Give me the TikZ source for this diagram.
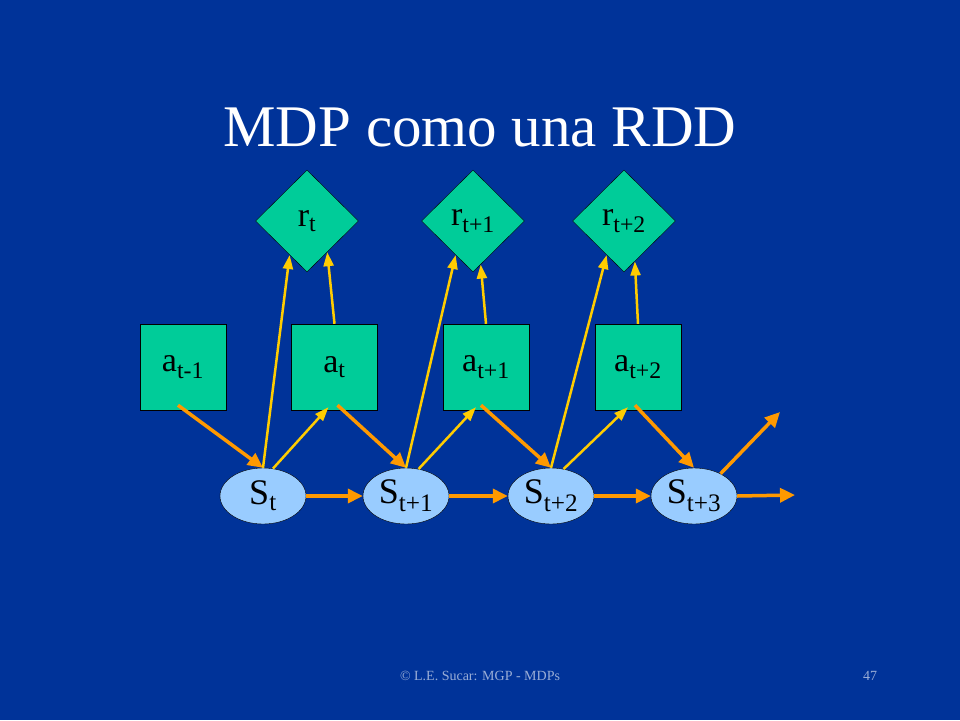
\documentclass[tikz,border=0pt]{standalone}
\usepackage{fontspec}
\setmainfont{Liberation Serif}
\usetikzlibrary{shapes.geometric,arrows.meta}
\definecolor{bg}{HTML}{003399}
\definecolor{gr}{HTML}{00CC99}
\definecolor{sk}{HTML}{99CCFF}
\definecolor{og}{HTML}{FF9900}
\definecolor{ye}{HTML}{FFCC00}
\begin{document}
\begin{tikzpicture}[x=1pt,y=-1pt,
  rw/.style={diamond,draw=black,fill=gr,minimum width=103pt,minimum height=102pt,inner sep=0pt,font=\fontsize{34}{36}\selectfont},
  ac/.style={rectangle,draw=black,fill=gr,minimum width=86pt,minimum height=86pt,inner sep=0pt,font=\fontsize{34}{36}\selectfont},
  st/.style={ellipse,draw=black,fill=sk,minimum width=86pt,minimum height=56pt,inner sep=0pt,font=\fontsize{36}{38}\selectfont},
  oa/.style={draw=og,line width=3.5pt,-{Triangle[length=15pt,width=14pt]}},
  ya/.style={draw=ye,line width=2.5pt,-{Triangle[length=14pt,width=10pt]}}]
\fill[bg] (0,0) rectangle (960,720);
\path[use as bounding box] (0,0) rectangle (960,720);
\node[text=white,font=\fontsize{59}{62}\selectfont] (title) at (480,127) {MDP como una RDD};
\node[rw] (r0) at (307,221) {r\textsubscript{t}};
\node[rw] (r1) at (473,221) {r\textsubscript{t+1}};
\node[rw] (r2) at (624,221) {r\textsubscript{t+2}};
\node[ac] (am) at (183,367) {a\textsubscript{t-1}};
\node[ac] (a0) at (334.5,367) {a\textsubscript{t}};
\node[ac] (a1) at (486,367) {a\textsubscript{t+1}};
\node[ac] (a2) at (638,367) {a\textsubscript{t+2}};
\node[st] (s0) at (263,496) {S\textsubscript{t}};
\node[st] (s1) at (406,496) {S\textsubscript{t+1}};
\node[st] (s2) at (551,496) {S\textsubscript{t+2}};
\node[st] (s3) at (694,496) {S\textsubscript{t+3}};
\coordinate (e1) at (780,412);
\coordinate (e2) at (795,495);
% orange
\draw[oa] ([xshift=-5pt,yshift=5pt]am.south) -- (s0.north);
\draw[oa] ([xshift=3pt,yshift=5pt]a0.south) -- (s1.north);
\draw[oa] ([xshift=-5pt,yshift=5pt]a1.south) -- (s2.north);
\draw[oa] ([xshift=-3pt,yshift=5pt]a2.south) -- (s3.north);
\draw[oa] (s0.east) -- (s1.west);
\draw[oa] (s1.east) -- (s2.west);
\draw[oa] (s2.east) -- (s3.west);
\draw[oa] (s3.east) -- (e2);
\draw[oa] (s3.40) -- (e1);
% yellow
\draw[ya] (s0.north) -- (r0.243);
\draw[ya] (s1.north) -- (r1.243);
\draw[ya] (s2.north) -- (r2.243);
\draw[ya] (a0.north) -- (r0.-57);
\draw[ya] (a1.north) -- (r1.-80);
\draw[ya] (a2.north) -- (r2.-75);
\draw[ya] (s0.70) -- ([xshift=-6pt,yshift=3pt]a0.south);
\draw[ya] (s1.65) -- ([xshift=-10pt,yshift=3pt]a1.south);
\draw[ya] (s2.65) -- ([xshift=-10pt,yshift=3pt]a2.south);
\node[text=bg!40!white,font=\fontsize{14}{16}\selectfont] (foot) at (480,676) {© L.E. Sucar: MGP - MDPs};
\node[text=bg!40!white,font=\fontsize{14}{16}\selectfont] (pg) at (870,676) {47};
\end{tikzpicture}
\end{document}
